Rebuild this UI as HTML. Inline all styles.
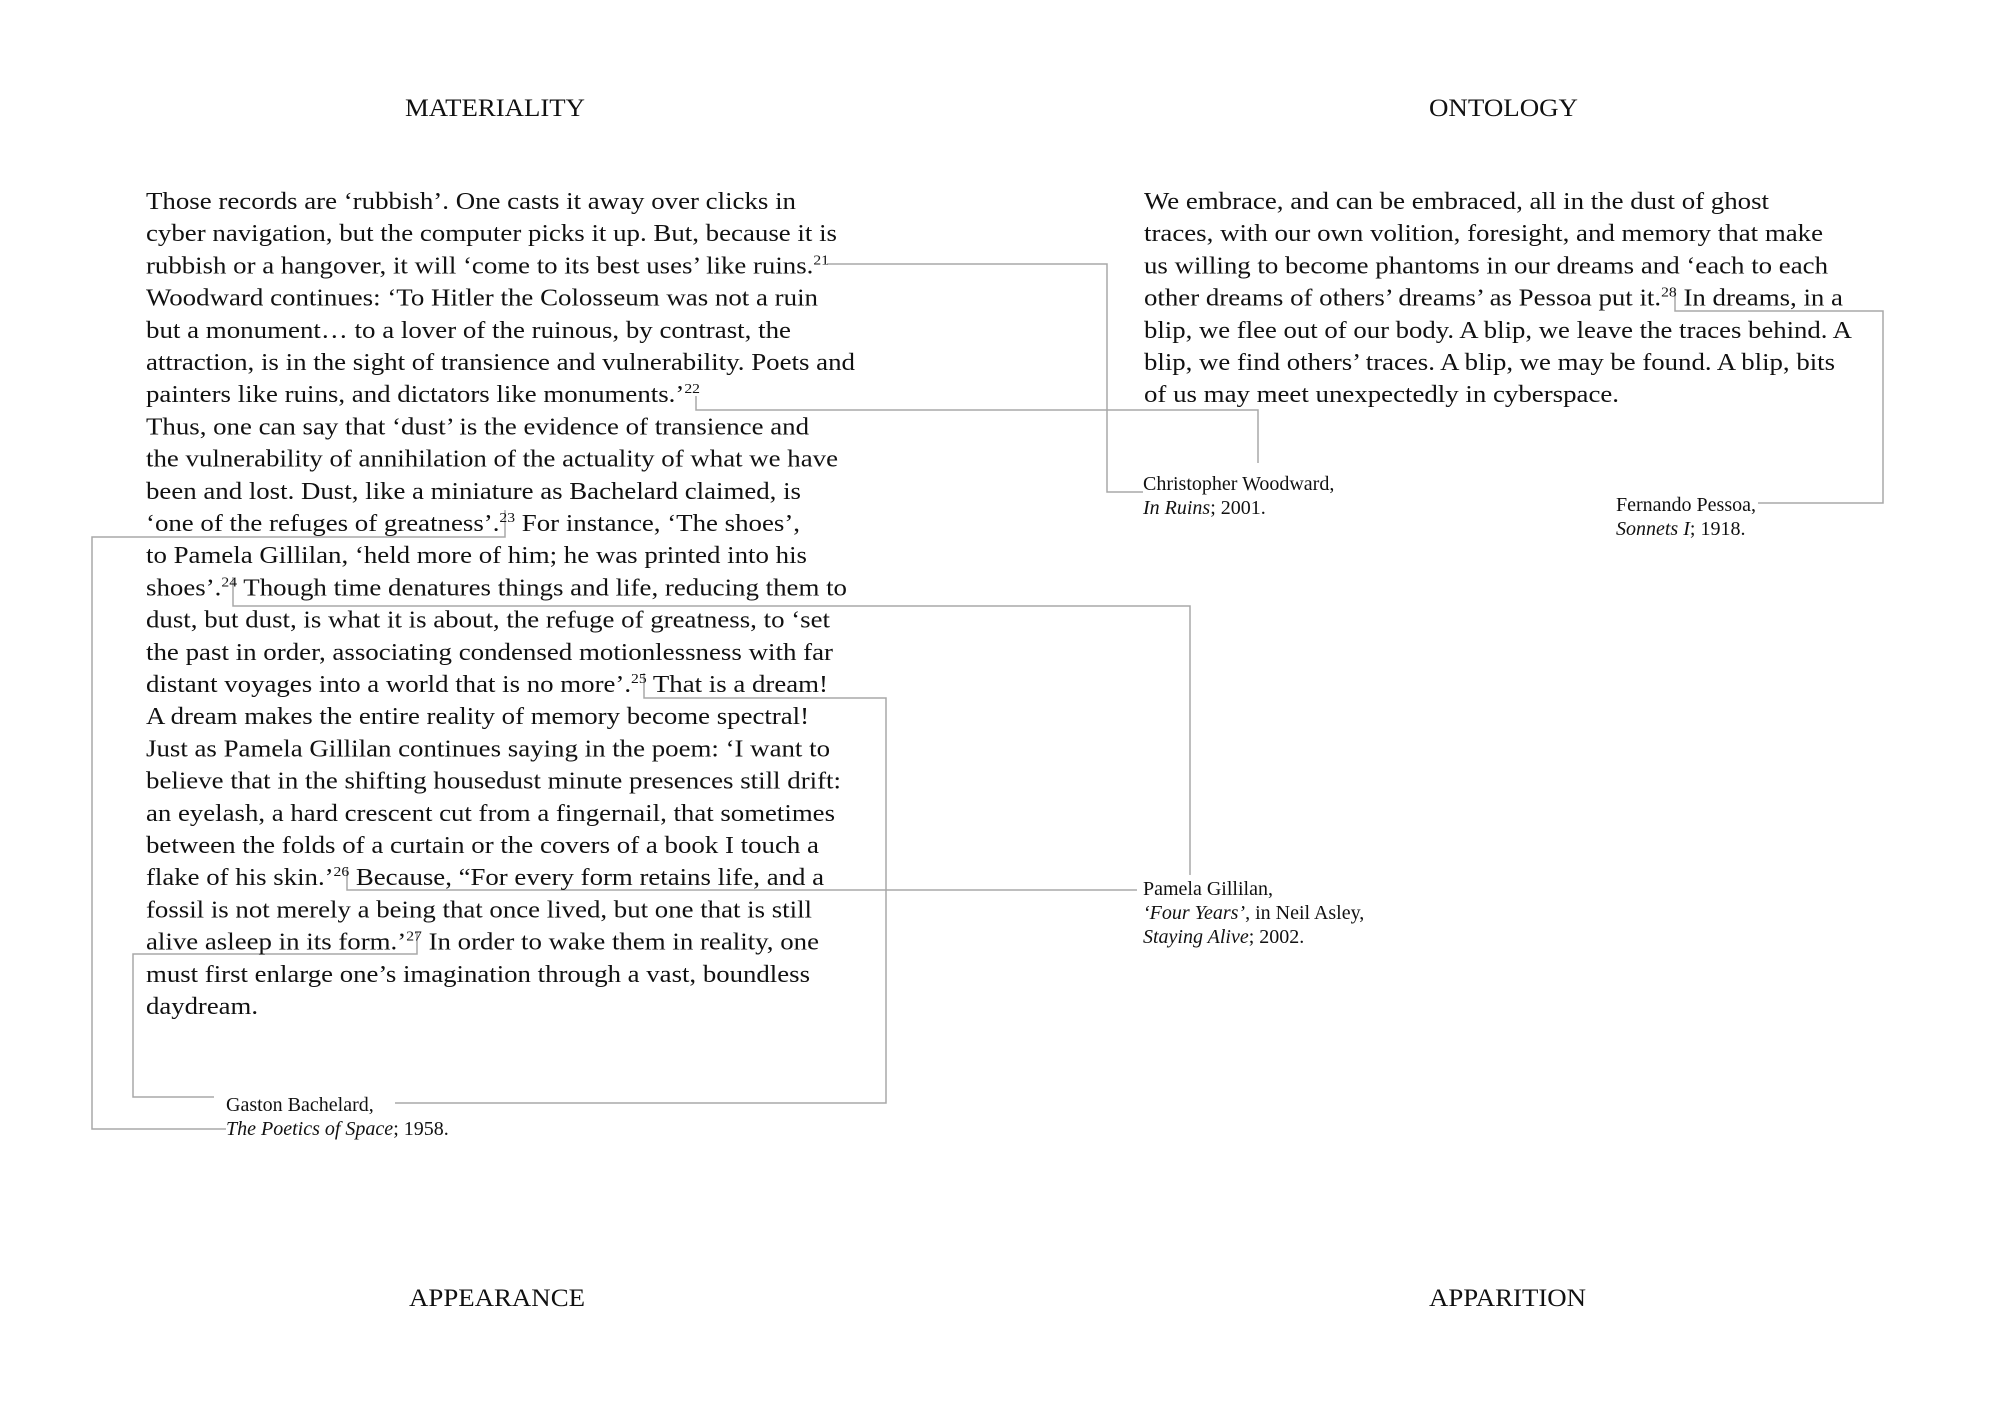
<!DOCTYPE html>
<html><head><meta charset="utf-8"><style>
html,body{margin:0;padding:0;background:#fff;}
svg{display:block;}
text{font-family:"Liberation Serif","Times New Roman",serif;fill:#111;}
.b{font-size:24px;}
.c{font-size:20px;}
.h{font-size:25px;}
.s{font-size:14px;}
</style></head><body>
<svg width="2000" height="1410" viewBox="0 0 2000 1410" xmlns="http://www.w3.org/2000/svg">
<g fill="none" stroke="#a8a8a8" stroke-width="1.5">
<polyline points="827,264 1107,264 1107,492 1143,492"/>
<polyline points="696,396 696,410 1258,410 1258,463"/>
<polyline points="1675,290 1675,311 1883,311 1883,503 1758,503"/>
<polyline points="505,510 505,537 92,537 92,1129 226,1129"/>
<polyline points="233,577 233,606 1190,606 1190,875"/>
<polyline points="644,673 644,698 886,698 886,1103 395,1103"/>
<polyline points="347,867 347,890 1137,890"/>
<polyline points="417,932 417,954 133,954 133,1097 214,1097"/>
</g>
<text class="h" x="405" y="116" textLength="180" lengthAdjust="spacingAndGlyphs">MATERIALITY</text>
<text class="h" x="1429" y="116" textLength="149" lengthAdjust="spacingAndGlyphs">ONTOLOGY</text>
<text class="h" x="409" y="1306" textLength="176" lengthAdjust="spacingAndGlyphs">APPEARANCE</text>
<text class="h" x="1429" y="1306" textLength="157" lengthAdjust="spacingAndGlyphs">APPARITION</text>

<g class="b">
<text x="146" y="209" textLength="650" lengthAdjust="spacingAndGlyphs">Those records are ‘rubbish’. One casts it away over clicks in</text>
<text x="146" y="241.2" textLength="691" lengthAdjust="spacingAndGlyphs">cyber navigation, but the computer picks it up. But, because it is</text>
<text x="146" y="273.4" textLength="683" lengthAdjust="spacingAndGlyphs">rubbish or a hangover, it will ‘come to its best uses’ like ruins.<tspan class="s" dy="-9">21</tspan></text>
<text x="146" y="305.6" textLength="672" lengthAdjust="spacingAndGlyphs">Woodward continues: ‘To Hitler the Colosseum was not a ruin</text>
<text x="146" y="337.8" textLength="645" lengthAdjust="spacingAndGlyphs">but a monument… to a lover of the ruinous, by contrast, the</text>
<text x="146" y="370" textLength="709" lengthAdjust="spacingAndGlyphs">attraction, is in the sight of transience and vulnerability. Poets and</text>
<text x="146" y="402.2" textLength="554" lengthAdjust="spacingAndGlyphs">painters like ruins, and dictators like monuments.’<tspan class="s" dy="-9">22</tspan></text>
<text x="146" y="434.4" textLength="663" lengthAdjust="spacingAndGlyphs">Thus, one can say that ‘dust’ is the evidence of transience and</text>
<text x="146" y="466.6" textLength="692" lengthAdjust="spacingAndGlyphs">the vulnerability of annihilation of the actuality of what we have</text>
<text x="146" y="498.8" textLength="655" lengthAdjust="spacingAndGlyphs">been and lost. Dust, like a miniature as Bachelard claimed, is</text>
<text x="146" y="531" textLength="654" lengthAdjust="spacingAndGlyphs">‘one of the refuges of greatness’.<tspan class="s" dy="-9">23</tspan><tspan dy="9"> For instance, ‘The shoes’,</tspan></text>
<text x="146" y="563.2" textLength="661" lengthAdjust="spacingAndGlyphs">to Pamela Gillilan, ‘held more of him; he was printed into his</text>
<text x="146" y="595.4" textLength="701" lengthAdjust="spacingAndGlyphs">shoes’.<tspan class="s" dy="-9">24</tspan><tspan dy="9"> Though time denatures things and life, reducing them to</tspan></text>
<text x="146" y="627.6" textLength="684" lengthAdjust="spacingAndGlyphs">dust, but dust, is what it is about, the refuge of greatness, to ‘set</text>
<text x="146" y="659.8" textLength="687" lengthAdjust="spacingAndGlyphs">the past in order, associating condensed motionlessness with far</text>
<text x="146" y="692" textLength="682" lengthAdjust="spacingAndGlyphs">distant voyages into a world that is no more’.<tspan class="s" dy="-9">25</tspan><tspan dy="9"> That is a dream!</tspan></text>
<text x="146" y="724.2" textLength="663" lengthAdjust="spacingAndGlyphs">A dream makes the entire reality of memory become spectral!</text>
<text x="146" y="756.4" textLength="684" lengthAdjust="spacingAndGlyphs">Just as Pamela Gillilan continues saying in the poem: ‘I want to</text>
<text x="146" y="788.6" textLength="695" lengthAdjust="spacingAndGlyphs">believe that in the shifting housedust minute presences still drift:</text>
<text x="146" y="820.8" textLength="689" lengthAdjust="spacingAndGlyphs">an eyelash, a hard crescent cut from a fingernail, that sometimes</text>
<text x="146" y="853" textLength="673" lengthAdjust="spacingAndGlyphs">between the folds of a curtain or the covers of a book I touch a</text>
<text x="146" y="885.2" textLength="678" lengthAdjust="spacingAndGlyphs">flake of his skin.’<tspan class="s" dy="-9">26</tspan><tspan dy="9"> Because, “For every form retains life, and a</tspan></text>
<text x="146" y="917.4" textLength="666" lengthAdjust="spacingAndGlyphs">fossil is not merely a being that once lived, but one that is still</text>
<text x="146" y="949.6" textLength="673" lengthAdjust="spacingAndGlyphs">alive asleep in its form.’<tspan class="s" dy="-9">27</tspan><tspan dy="9"> In order to wake them in reality, one</tspan></text>
<text x="146" y="981.8" textLength="664" lengthAdjust="spacingAndGlyphs">must first enlarge one’s imagination through a vast, boundless</text>
<text x="146" y="1014" textLength="112" lengthAdjust="spacingAndGlyphs">daydream.</text>

<text x="1144" y="209" textLength="625" lengthAdjust="spacingAndGlyphs">We embrace, and can be embraced, all in the dust of ghost</text>
<text x="1144" y="241.2" textLength="679" lengthAdjust="spacingAndGlyphs">traces, with our own volition, foresight, and memory that make</text>
<text x="1144" y="273.4" textLength="684" lengthAdjust="spacingAndGlyphs">us willing to become phantoms in our dreams and ‘each to each</text>
<text x="1144" y="305.6" textLength="699" lengthAdjust="spacingAndGlyphs">other dreams of others’ dreams’ as Pessoa put it.<tspan class="s" dy="-9">28</tspan><tspan dy="9"> In dreams, in a</tspan></text>
<text x="1144" y="337.8" textLength="708" lengthAdjust="spacingAndGlyphs">blip, we flee out of our body. A blip, we leave the traces behind. A</text>
<text x="1144" y="370" textLength="691" lengthAdjust="spacingAndGlyphs">blip, we find others’ traces. A blip, we may be found. A blip, bits</text>
<text x="1144" y="402.2" textLength="475" lengthAdjust="spacingAndGlyphs">of us may meet unexpectedly in cyberspace.</text>
</g>

<g class="c">
<text x="1143" y="490">Christopher Woodward,</text>
<text x="1143" y="514"><tspan font-style="italic">In Ruins</tspan>; 2001.</text>
<text x="1616" y="511">Fernando Pessoa,</text>
<text x="1616" y="535"><tspan font-style="italic">Sonnets I</tspan>; 1918.</text>
<text x="1143" y="895">Pamela Gillilan,</text>
<text x="1143" y="919"><tspan font-style="italic">‘Four Years’</tspan>, in Neil Asley,</text>
<text x="1143" y="943"><tspan font-style="italic">Staying Alive</tspan>; 2002.</text>
<text x="226" y="1111">Gaston Bachelard,</text>
<text x="226" y="1135"><tspan font-style="italic">The Poetics of Space</tspan>; 1958.</text>
</g>
</svg>
</body></html>
